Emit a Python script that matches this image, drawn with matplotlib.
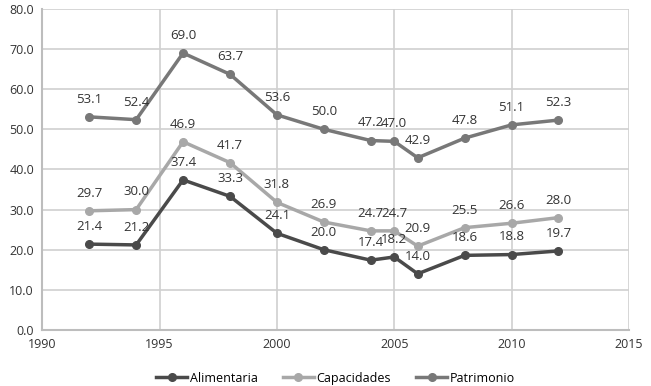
import matplotlib
matplotlib.use("Agg")
import matplotlib.pyplot as plt

plt.rcParams['font.family'] = ['Open Sans', 'DejaVu Sans']

years = [1992, 1994, 1996, 1998, 2000, 2002, 2004, 2005, 2006, 2008, 2010, 2012]
alimentaria = [21.4, 21.2, 37.4, 33.3, 24.1, 20.0, 17.4, 18.2, 14.0, 18.6, 18.8, 19.7]
capacidades = [29.7, 30.0, 46.9, 41.7, 31.8, 26.9, 24.7, 24.7, 20.9, 25.5, 26.6, 28.0]
patrimonio = [53.1, 52.4, 69.0, 63.7, 53.6, 50.0, 47.2, 47.0, 42.9, 47.8, 51.1, 52.3]

series = [
    ("Alimentaria", alimentaria, "#4a4a4a"),
    ("Capacidades", capacidades, "#a8a8a8"),
    ("Patrimonio", patrimonio, "#787878"),
]

fig = plt.figure(figsize=(6.51, 3.86), dpi=100)
ax = fig.add_axes([0.065, 0.145, 0.901, 0.832])

for name, vals, col in series:
    ax.plot(years, vals, color=col, lw=2.5, marker="o", ms=5.5, label=name)
    for x, y in zip(years, vals):
        ax.annotate(f"{y:.1f}", (x, y), xytext=(0, 8), textcoords="offset points",
                    ha="center", va="bottom", fontsize=9.5, color="#333333")

ax.set_xlim(1990, 2015)
ax.set_ylim(0, 80)
ax.set_xticks(range(1990, 2016, 5))
ax.set_yticks(range(0, 81, 10))
ax.set_yticklabels([f"{v:.1f}" for v in range(0, 81, 10)])
ax.grid(True, color="#d0d0d0", lw=1.2)
ax.set_axisbelow(True)
for s in ["top", "right"]:
    ax.spines[s].set_visible(False)
for s in ["left", "bottom"]:
    ax.spines[s].set_color("#bdbdbd")
    ax.spines[s].set_linewidth(1.5)
ax.tick_params(length=0, labelsize=9, colors="#333333", pad=6)

ax.legend(loc="upper center", bbox_to_anchor=(0.5, -0.095), ncol=3, frameon=False,
          fontsize=9, handlelength=2.5, columnspacing=2.0, handletextpad=0.2)

fig.savefig("out.png", dpi=100)
